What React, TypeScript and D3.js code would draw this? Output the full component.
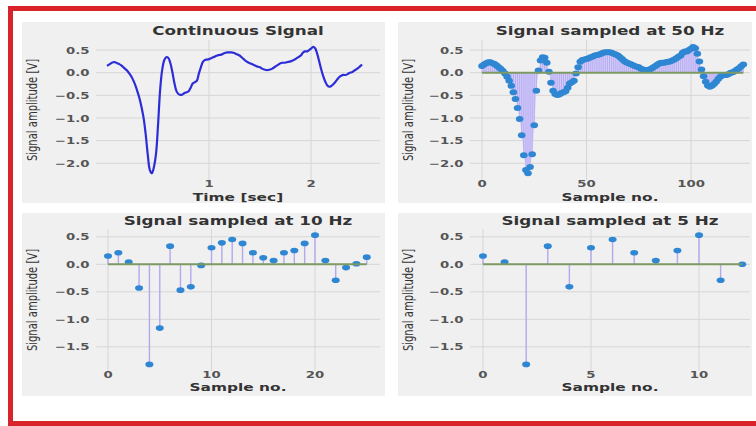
import React from 'react'
import * as d3 from 'd3'

const W = 756
const H = 426

// signal sampled at 50 Hz (t = n / 50 s), also used for the continuous trace
const samples50 = [
  0.15, 0.18, 0.21, 0.23, 0.23, 0.21, 0.19, 0.16, 0.12, 0.08,
  0.04, -0.02, -0.09, -0.18, -0.29, -0.43, -0.58, -0.78, -1.02, -1.38,
  -1.82, -2.15, -2.22, -2.08, -1.8, -1.16, -0.4, 0.05, 0.27, 0.34,
  0.33, 0.22, 0.02, -0.22, -0.4, -0.47, -0.49, -0.48, -0.45, -0.43,
  -0.41, -0.33, -0.24, -0.21, -0.18, -0.02, 0.12, 0.24, 0.28, 0.29,
  0.3, 0.32, 0.34, 0.36, 0.38, 0.39, 0.4, 0.42, 0.44, 0.45,
  0.45, 0.45, 0.44, 0.42, 0.4, 0.38, 0.34, 0.3, 0.26, 0.23,
  0.21, 0.19, 0.17, 0.15, 0.13, 0.12, 0.09, 0.07, 0.06, 0.06,
  0.07, 0.09, 0.12, 0.15, 0.18, 0.21, 0.22, 0.22, 0.23, 0.24,
  0.25, 0.27, 0.29, 0.32, 0.35, 0.38, 0.44, 0.47, 0.47, 0.5,
  0.53, 0.57, 0.54, 0.42, 0.25, 0.07, -0.08, -0.2, -0.28, -0.31,
  -0.29, -0.25, -0.2, -0.14, -0.09, -0.06, -0.05, -0.05, -0.03, 0.0,
  0.01, 0.04, 0.07, 0.1, 0.14, 0.18,
]

const samples10 = [
  0.15, 0.21, 0.04, -0.43, -1.82, -1.16, 0.33, -0.47, -0.41, -0.02,
  0.3, 0.39, 0.45, 0.38, 0.21, 0.12, 0.07, 0.21, 0.25, 0.38,
  0.53, 0.07, -0.29, -0.06, 0.01, 0.13,
]

const samples5 = [0.15, 0.04, -1.82, 0.33, -0.41, 0.3, 0.45, 0.21, 0.07, 0.25, 0.53, -0.29, 0.0]

const yTicksTop = [0.5, 0, -0.5, -1, -1.5, -2]
const yTicksBottom = [0.5, 0, -0.5, -1, -1.5]
const timeTicks = [1, 2]
const ticks50 = [0, 50, 100]
const ticks10 = [0, 10, 20]
const ticks5 = [0, 5, 10]

const FONT = '"DejaVu Sans", Verdana, sans-serif'
const SX = 1.4 // the figure is stretched horizontally
const fmt = d3.format('.1f')

type Area = { x0: number; x1: number; y0: number; y1: number }

const Txt = ({ x, y, size, weight = 'normal', anchor = 'middle', rotate = false, fill = '#333', children }: any) => (
  <text
    transform={`translate(${x},${y}) scale(${SX},1)${rotate ? ' rotate(-90)' : ''}`}
    fontSize={size}
    fontWeight={weight}
    textAnchor={anchor}
    fill={fill}
    fontFamily={FONT}
  >
    {children}
  </text>
)

const Panel = ({ box, area, x, y, xTicks, yTicks, title, xLabel, top, children }: any) => {
  const a: Area = area
  const titleY = top ? 35 : 225
  const tickY = top ? 187 : 378
  const labelY = top ? 201 : 391
  return (
    <g>
      <rect x={box[0]} y={box[1]} width={box[2] - box[0]} height={box[3] - box[1]} fill="#f0f0f0" />
      {yTicks.map((v: number) => (
        <line key={'gy' + v} x1={a.x0} x2={a.x1} y1={y(v)} y2={y(v)} stroke="#d6d6d6" strokeWidth={1} />
      ))}
      {xTicks.map((v: number) => (
        <line key={'gx' + v} x1={x(v)} x2={x(v)} y1={a.y0} y2={a.y1} stroke="#d6d6d6" strokeWidth={1} />
      ))}
      {children}
      {yTicks.map((v: number) => (
        <Txt key={'ty' + v} x={a.x0 - 6.5} y={y(v) + 3.6} size={9.5} weight="bold" anchor="end" fill="#555">
          {fmt(v)}
        </Txt>
      ))}
      {xTicks.map((v: number) => (
        <Txt key={'tx' + v} x={x(v)} y={tickY} size={9.5} weight="bold" fill="#555">
          {v}
        </Txt>
      ))}
      <Txt x={(a.x0 + a.x1) / 2} y={titleY} size={12} weight="bold">{title}</Txt>
      <Txt x={(a.x0 + a.x1) / 2} y={labelY} size={11} weight="bold">{xLabel}</Txt>
      <Txt x={box[0] + 15} y={(a.y0 + a.y1) / 2} size={10} rotate>Signal amplitude [V]</Txt>
    </g>
  )
}

const Stems = ({ data, x, y, dense = false }: any) => {
  const area = d3.area<number>()
    .x((_, i) => x(i))
    .y0(y(0))
    .y1(d => y(d))
  return (
    <g>
      {dense && <path d={area(data) || ''} fill="#d3ccf9" />}
      {data.map((v: number, i: number) => (
        <line key={'s' + i} x1={x(i)} x2={x(i)} y1={y(0)} y2={y(v)}
          stroke={dense ? '#aea3ef' : '#b3a8ee'} strokeWidth={dense ? 0.8 : 1.4} />
      ))}
      {data.map((v: number, i: number) => (
        <ellipse key={'m' + i} cx={x(i)} cy={y(v)} rx={dense ? 3.8 : 4} ry={dense ? 3 : 2.8} fill="#2f87d3" />
      ))}
      <line x1={x(0)} x2={x(data.length - 1)} y1={y(0)} y2={y(0)} stroke="#7d9a62" strokeWidth={2} />
    </g>
  )
}

export default function App() {
  const areaTL: Area = { x0: 96, x1: 380, y0: 40, y1: 180 }
  const areaTR: Area = { x0: 470, x1: 750, y0: 40, y1: 180 }
  const areaBL: Area = { x0: 96, x1: 380, y0: 229, y1: 371 }
  const areaBR: Area = { x0: 470, x1: 750, y0: 229, y1: 371 }

  const yTop = d3.scaleLinear().domain([0.722, -2.369]).range([40, 180])
  const yBottom = d3.scaleLinear().domain([0.642, -1.94]).range([229, 371])

  const xTime = d3.scaleLinear().domain([-0.108, 2.676]).range([areaTL.x0, areaTL.x1])
  const x50 = d3.scaleLinear().domain([-5.74, 128.2]).range([areaTR.x0, areaTR.x1])
  const x10 = d3.scaleLinear().domain([-1.16, 26.28]).range([areaBL.x0, areaBL.x1])
  const x5 = d3.scaleLinear().domain([-0.6, 12.36]).range([areaBR.x0, areaBR.x1])

  const line = d3.line<number>()
    .x((_, i) => xTime(i / 50))
    .y(d => yTop(d))
    .curve(d3.curveCatmullRom)

  return (
    <svg width={W} height={H} style={{ position: 'absolute', left: 0, top: 0, background: '#fff' }}>
      <Panel box={[22, 22, 385, 203]} area={areaTL} x={xTime} y={yTop} xTicks={timeTicks} yTicks={yTicksTop}
        title="Continuous Signal" xLabel="Time [sec]" top>
        <path d={line(samples50) || ''} fill="none" stroke="#2d2dd8" strokeWidth={2.2} strokeLinejoin="round" />
      </Panel>
      <Panel box={[398, 22, 752, 203]} area={areaTR} x={x50} y={yTop} xTicks={ticks50} yTicks={yTicksTop}
        title="Signal sampled at 50 Hz" xLabel="Sample no." top>
        <Stems data={samples50} x={x50} y={yTop} dense />
      </Panel>
      <Panel box={[22, 213, 385, 396]} area={areaBL} x={x10} y={yBottom} xTicks={ticks10} yTicks={yTicksBottom}
        title="Signal sampled at 10 Hz" xLabel="Sample no.">
        <Stems data={samples10} x={x10} y={yBottom} />
      </Panel>
      <Panel box={[398, 213, 752, 396]} area={areaBR} x={x5} y={yBottom} xTicks={ticks5} yTicks={yTicksBottom}
        title="Signal sampled at 5 Hz" xLabel="Sample no.">
        <Stems data={samples5} x={x5} y={yBottom} />
      </Panel>
      <rect x={10.5} y={8.5} width={800} height={415} fill="none" stroke="#d8232a" strokeWidth={5} />
    </svg>
  )
}
